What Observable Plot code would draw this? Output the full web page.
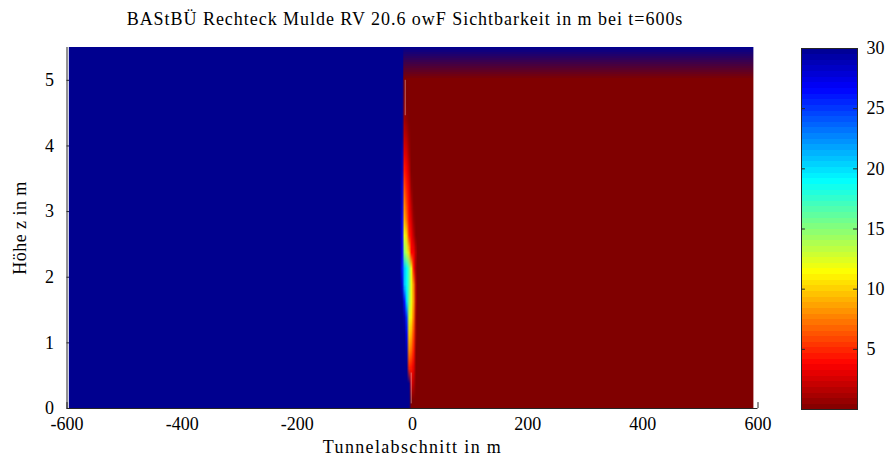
<!DOCTYPE html>
<html>
<head>
<meta charset="utf-8">
<script src="https://cdn.jsdelivr.net/npm/d3@7"></script>
<script src="https://cdn.jsdelivr.net/npm/@observablehq/plot@0.6"></script>
<style>
html, body { margin: 0; padding: 0; background: #fff; }
#chart { position: relative; width: 888px; height: 462px; font-family: "Liberation Serif", serif; color: #000; }
#chart svg { position: absolute; top: 0; }
#chart svg, #chart svg text { font-family: "Liberation Serif", serif !important; }
#title { position: absolute; left: 0; width: 810px; top: 9px; text-align: center; font-size: 18px; white-space: nowrap; }
</style>
</head>
<body>
<div id="chart"><div id="title"></div></div>
<script>
// ---------- texts ----------
const titleText = "BAStBÜ Rechteck Mulde RV 20.6 owF Sichtbarkeit in m bei t=600s";
const xLabel = "Tunnelabschnitt in m";
const yLabel = "Höhe z in m";

// ---------- ticks ----------
const xTicks = [-600, -400, -200, 0, 200, 400, 600];
const yTicks = [0, 1, 2, 3, 4, 5];
const cbTicks = [5, 10, 15, 20, 25, 30];
const xDomain = [-600, 600];
const zDomain = [0, 5.5];
const cDomain = [0, 30];

// ---------- field data (visibility in m) ----------
// upstream clear air: x range and value
const clearX = [-596, -12];
const clearValue = 30;
// downstream smoke: x range, vertical profile (row centres z = 0, 0.5, ... 5.5)
const smokeX = [-16, 592];
const smokeZ = [0, 0.5, 1, 1.5, 2, 2.5, 3, 3.5, 4, 4.5, 5, 5.5];
const smokeProfile = [0, 0, 0, 0, 0, 0, 0, 0, 0, 0, 0, 30];
// smoke front near x = 0: column centres (m) and rows (bottom -> top, z = 0.125 ... 4.875)
const frontX = [-22, -18, -14, -10, -6, -2, 2, 6];
const frontZ = [0.125, 0.375, 0.625, 0.875, 1.125, 1.375, 1.625, 1.875, 2.125, 2.375,
                2.625, 2.875, 3.125, 3.375, 3.625, 3.875, 4.125, 4.375, 4.625, 4.875];
const frontRows = [
  [30, 30, 30, 30, 30, 0, 0, 0],
  [30, 30, 30, 30, 30, 3, 1.5, 0],
  [30, 30, 30, 30, 5, 4.5, 3, 0],
  [30, 30, 30, 29, 8, 7, 4.5, 0],
  [30, 30, 30, 27, 10, 9, 5.5, 0.5],
  [30, 30, 29, 25, 13, 11, 7, 0.5],
  [30, 30, 26, 20, 15, 12, 8, 1],
  [30, 28, 21, 19, 16, 12, 7.5, 1],
  [30, 26, 21, 19, 16, 12, 4, 0.5],
  [30, 27, 15, 13, 10, 4, 3.5, 1],
  [30, 27, 12, 10, 5, 3.5, 1.5, 0],
  [30, 27, 9, 7, 4, 2.5, 0.5, 0],
  [30, 28, 7.5, 5.5, 3.5, 1.5, 0, 0],
  [30, 28, 6, 4.5, 3, 0.5, 0, 0],
  [30, 29, 4.5, 3.5, 2, 0, 0, 0],
  [30, 29, 3, 2.5, 1, 0, 0, 0],
  [30, 30, 2, 1.5, 0.5, 0, 0, 0],
  [30, 30, 1, 0.5, 0, 0, 0, 0],
  [30, 30, 0.5, 0, 0, 0, 0, 0],
  [30, 30, 0, 0, 0, 0, 0, 0]
];
// faint mesh lines visible in the image
const meshX = [-12.6, -2.2];
const meshZ1 = [4.46, 0.07];
const meshZ2 = [5.0, 0.54];

// ---------- colour map: MATLAB jet(64), reversed (0 = dark red, 30 = dark blue) ----------
function jetK(k) {
  const c = v => Math.max(0, Math.min(1, v));
  const r = c(Math.min((k - 24) / 16, (72 - k) / 16));
  const g = c(Math.min((k - 8) / 16, (56 - k) / 16));
  const b = c(Math.min((k + 8) / 16, (40 - k) / 16));
  return `rgb(${Math.round(r * 255)},${Math.round(g * 255)},${Math.round(b * 255)})`;
}
const colorOpts = { type: "linear", domain: cDomain, interpolate: (t) => jetK(64 - 63 * t) };

// letter spacing so that a serif text spans the width of the original (Palatino-like) text
const measureCtx = document.createElement("canvas").getContext("2d");
function spacingFor(text, size, target) {
  measureCtx.font = `${size}px "Liberation Serif"`;
  const w = measureCtx.measureText(text).width;
  return (target - w) / Math.max(1, text.length - 1);
}

const titleEl = document.getElementById("title");
titleEl.textContent = titleText;
titleEl.style.letterSpacing = spacingFor(titleText, 18, 556) + "px";

const fontSize = 18;
const axisColor = "#262626";
const svgStyle = { fontFamily: "Liberation Serif, serif", fontSize: fontSize + "px", background: "transparent", color: "#000" };

// build tables from the arrays
const clear = [{ x1: clearX[0], x2: clearX[1], z1: zDomain[0], z2: zDomain[1], v: clearValue }];
const frontFlat = frontRows.flat();
const dz = frontZ[1] - frontZ[0];
const dxf = frontX[1] - frontX[0];
const sdz = smokeZ[1] - smokeZ[0];
const mesh = meshX.map((x, i) => ({ x, z1: meshZ1[i], z2: meshZ2[i] }));

const main = Plot.plot({
  width: 888,
  height: 462,
  marginLeft: 66.5,
  marginRight: 888 - 757.5,
  marginTop: 47,
  marginBottom: 462 - 408,
  x: { domain: xDomain },
  y: { domain: zDomain },
  color: colorOpts,
  style: svgStyle,
  marks: [
    // inward ticks (mostly hidden by image, as in the original)
    Plot.ruleY(yTicks, { x1: xDomain[0], x2: xDomain[0] + 8, stroke: axisColor }),
    Plot.ruleX(xTicks, { y1: zDomain[0], y2: zDomain[0] + 0.09, stroke: axisColor }),
    // upstream clear air
    Plot.rect(clear, { x1: "x1", x2: "x2", y1: "z1", y2: "z2", fill: "v" }),
    // downstream smoke layer with ceiling band
    Plot.raster(smokeProfile, {
      width: 1, height: smokeProfile.length,
      x1: smokeX[0], x2: smokeX[1],
      y1: smokeZ[0] - sdz / 2, y2: smokeZ[smokeZ.length - 1] + sdz / 2,
      fill: d => d, imageRendering: "auto", clip: true
    }),
    // smoke front
    Plot.raster(frontFlat, {
      width: frontX.length, height: frontZ.length,
      x1: frontX[0] - dxf / 2, x2: frontX[frontX.length - 1] + dxf / 2,
      y1: frontZ[0] - dz / 2, y2: frontZ[frontZ.length - 1] + dz / 2,
      fill: d => d, imageRendering: "auto"
    }),
    Plot.ruleX(mesh, { x: "x", y1: "z1", y2: "z2", stroke: "#e0a8a8", strokeOpacity: 0.6 }),
    // axis lines
    Plot.ruleX([xDomain[0]], { y1: zDomain[0], y2: zDomain[1], stroke: axisColor }),
    Plot.ruleY([zDomain[0]], { x1: xDomain[0], x2: xDomain[1], stroke: axisColor }),
    Plot.axisX({ ticks: xTicks, tickSize: 0, tickPadding: 9, tickFormat: d => String(d), label: null, fontSize }),
    Plot.axisY({ ticks: yTicks, tickSize: 0, tickPadding: 13, tickFormat: d => String(d), label: null, fontSize }),
    Plot.text([xLabel], { frameAnchor: "bottom", textAnchor: "middle", dy: 44, text: d => d, fontSize: 18 }),
    Plot.text([yLabel], { frameAnchor: "left", textAnchor: "middle", dx: -47, rotate: -90, text: d => d, fontSize: 18 })
  ]
});
main.style.left = "0px";
// widen the axis titles to the span of the original lettering
d3.select(main).selectAll("text").each(function () {
  const t = this.textContent;
  if (t === xLabel) this.setAttribute("letter-spacing", spacingFor(xLabel, 18, 178));
  if (t === yLabel) this.setAttribute("letter-spacing", spacingFor(yLabel, 18, 93));
});
document.getElementById("chart").appendChild(main);

// ---------- colour bar (64 discrete levels of the colour map) ----------
const levelValues = d3.range(64).map(i => cDomain[0] + ((i + 0.5) * (cDomain[1] - cDomain[0])) / 64);
const cb = Plot.plot({
  width: 108,
  height: 462,
  marginLeft: 21,
  marginRight: 108 - 77,
  marginTop: 48,
  marginBottom: 462 - 409,
  x: { domain: [0, 1], axis: null },
  y: { domain: cDomain },
  color: colorOpts,
  style: svgStyle,
  marks: [
    Plot.raster(levelValues, { width: 1, height: 64, x1: 0, x2: 1, y1: cDomain[0], y2: cDomain[1], fill: d => d, imageRendering: "pixelated" }),
    Plot.ruleY(cbTicks, { x1: 0, x2: 0.07, stroke: axisColor }),
    Plot.ruleY(cbTicks, { x1: 0.93, x2: 1, stroke: axisColor }),
    Plot.frame({ stroke: axisColor }),
    Plot.axisY({ anchor: "right", ticks: cbTicks, tickSize: 0, tickPadding: 9, tickFormat: d => String(d), label: null, fontSize })
  ]
});
cb.style.left = "780px";
document.getElementById("chart").appendChild(cb);
</script>
</body>
</html>
